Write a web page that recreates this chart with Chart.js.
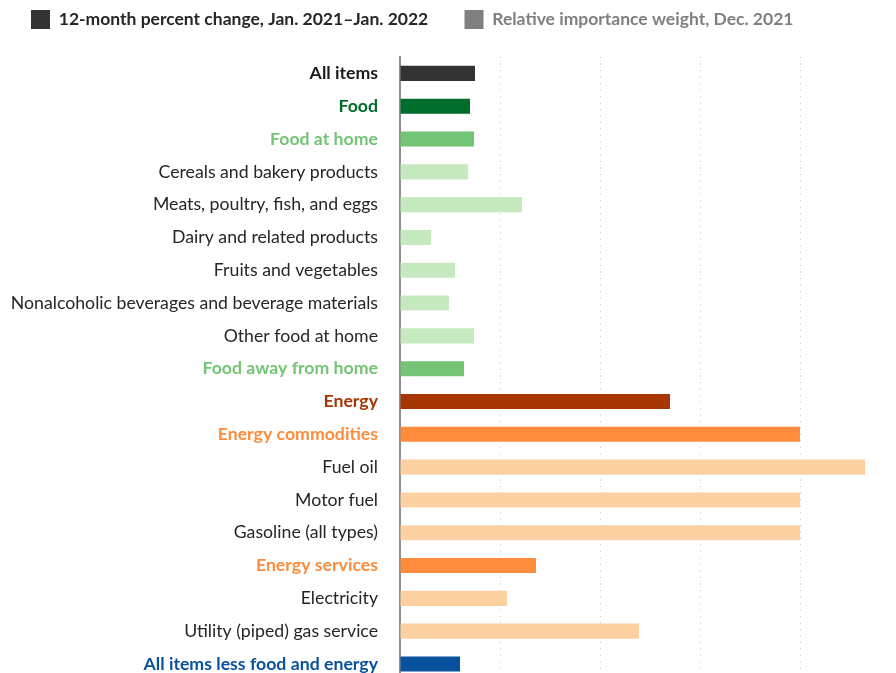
<!DOCTYPE html>
<html>
<head>
<meta charset="utf-8">
<script src="https://cdn.jsdelivr.net/npm/chart.js@4/dist/chart.umd.min.js"></script>
<style>
  html, body { margin: 0; padding: 0; overflow: hidden; background: #fff; }
  #wrap { width: 920px; height: 713px; }
</style>
</head>
<body>
<div id="wrap"><canvas id="cpi" width="920" height="713"></canvas></div>
<script>
// categories, top to bottom
const categories = [
  'All items',
  'Food',
  'Food at home',
  'Cereals and bakery products',
  'Meats, poultry, fish, and eggs',
  'Dairy and related products',
  'Fruits and vegetables',
  'Nonalcoholic beverages and beverage materials',
  'Other food at home',
  'Food away from home',
  'Energy',
  'Energy commodities',
  'Fuel oil',
  'Motor fuel',
  'Gasoline (all types)',
  'Energy services',
  'Electricity',
  'Utility (piped) gas service',
  'All items less food and energy'
];

// group each row belongs to (drives colour / weight)
const levels = [
  'all', 'food', 'foodSub', 'foodItem', 'foodItem', 'foodItem', 'foodItem', 'foodItem', 'foodItem', 'foodSub',
  'energy', 'energySub', 'energyItem', 'energyItem', 'energyItem', 'energySub', 'energyItem', 'energyItem',
  'core'
];

// 12-month percent change, Jan. 2021-Jan. 2022
const pctChange = [7.5, 7.0, 7.4, 6.8, 12.2, 3.1, 5.5, 4.9, 7.4, 6.4, 27.0, 40.0, 46.5, 40.0, 40.0, 13.6, 10.7, 23.9, 6.0];

// relative importance weight (series is switched off in the picture)
const relWeight = [];

const seriesLabels = ['12-month percent change, Jan. 2021\u2013Jan. 2022', 'Relative importance weight, Dec. 2021'];

const barColor = {
  all: '#333333', food: '#006d2c', foodSub: '#74c476', foodItem: '#c7e9c0',
  energy: '#a63603', energySub: '#fd8d3c', energyItem: '#fdd0a2', core: '#08519c'
};
const labelColor = {
  all: '#1a1a1a', food: '#006d2c', foodSub: '#74c476', foodItem: '#262626',
  energy: '#a63603', energySub: '#fd8d3c', energyItem: '#262626', core: '#08519c'
};
const FONT = 'Lato, "Open Sans", sans-serif';

// legend: a bit of room under it, and nudged right
const legendPlacement = {
  id: 'legendPlacement',
  beforeInit(chart) {
    const fit = chart.legend.fit;
    chart.legend.fit = function () {
      fit.bind(chart.legend)();
      this.height += 18;
    };
  },
  afterLayout(chart) {
    chart.legend.left += 21;
    chart.legend.right += 21;
  }
};

new Chart(document.getElementById('cpi'), {
  type: 'bar',
  data: {
    labels: categories,
    datasets: [{
      label: seriesLabels[0],
      data: pctChange,
      backgroundColor: levels.map(l => barColor[l]),
      borderWidth: 0,
      categoryPercentage: 0.46,
      barPercentage: 1
    }, {
      label: seriesLabels[1],
      data: relWeight,
      backgroundColor: '#808080',
      hidden: true
    }]
  },
  options: {
    indexAxis: 'y',
    responsive: false,
    animation: false,
    layout: { padding: { left: 0, right: 20, top: 0, bottom: 0 } },
    plugins: {
      tooltip: { enabled: false },
      legend: {
        position: 'top',
        align: 'start',
        labels: {
          boxWidth: 19,
          boxHeight: 19,
          padding: 10,
          font: { family: FONT, size: 17.5, weight: 'bold' },
          generateLabels: chart => chart.data.datasets.map((ds, i) => ({
            text: i === 0 ? ds.label + '\u2003\u2002\u2009\u2009' : ds.label,
            fillStyle: i === 0 ? '#333333' : '#808080',
            strokeStyle: 'transparent',
            lineWidth: 0,
            hidden: false,
            fontColor: i === 0 ? '#262626' : '#7f7f7f',
            datasetIndex: i
          }))
        }
      }
    },
    scales: {
      x: {
        min: 0,
        max: 50,
        ticks: { display: false, stepSize: 10 },
        grid: { color: '#c4c4c4', lineWidth: 1, drawTicks: false },
        border: { display: false, dash: [1, 5.5] }
      },
      y: {
        afterFit: scale => { scale.width = 400; },
        grid: { display: false, drawTicks: false },
        border: { display: true, color: '#8c8c8c', width: 2 },
        ticks: {
          padding: 22,
          color: ctx => labelColor[levels[ctx.index]],
          font: ctx => ({
            family: FONT,
            size: 17.7,
            weight: /Item$/.test(levels[ctx.index]) ? 'normal' : 'bold'
          })
        }
      }
    }
  },
  plugins: [legendPlacement]
});
</script>
</body>
</html>
